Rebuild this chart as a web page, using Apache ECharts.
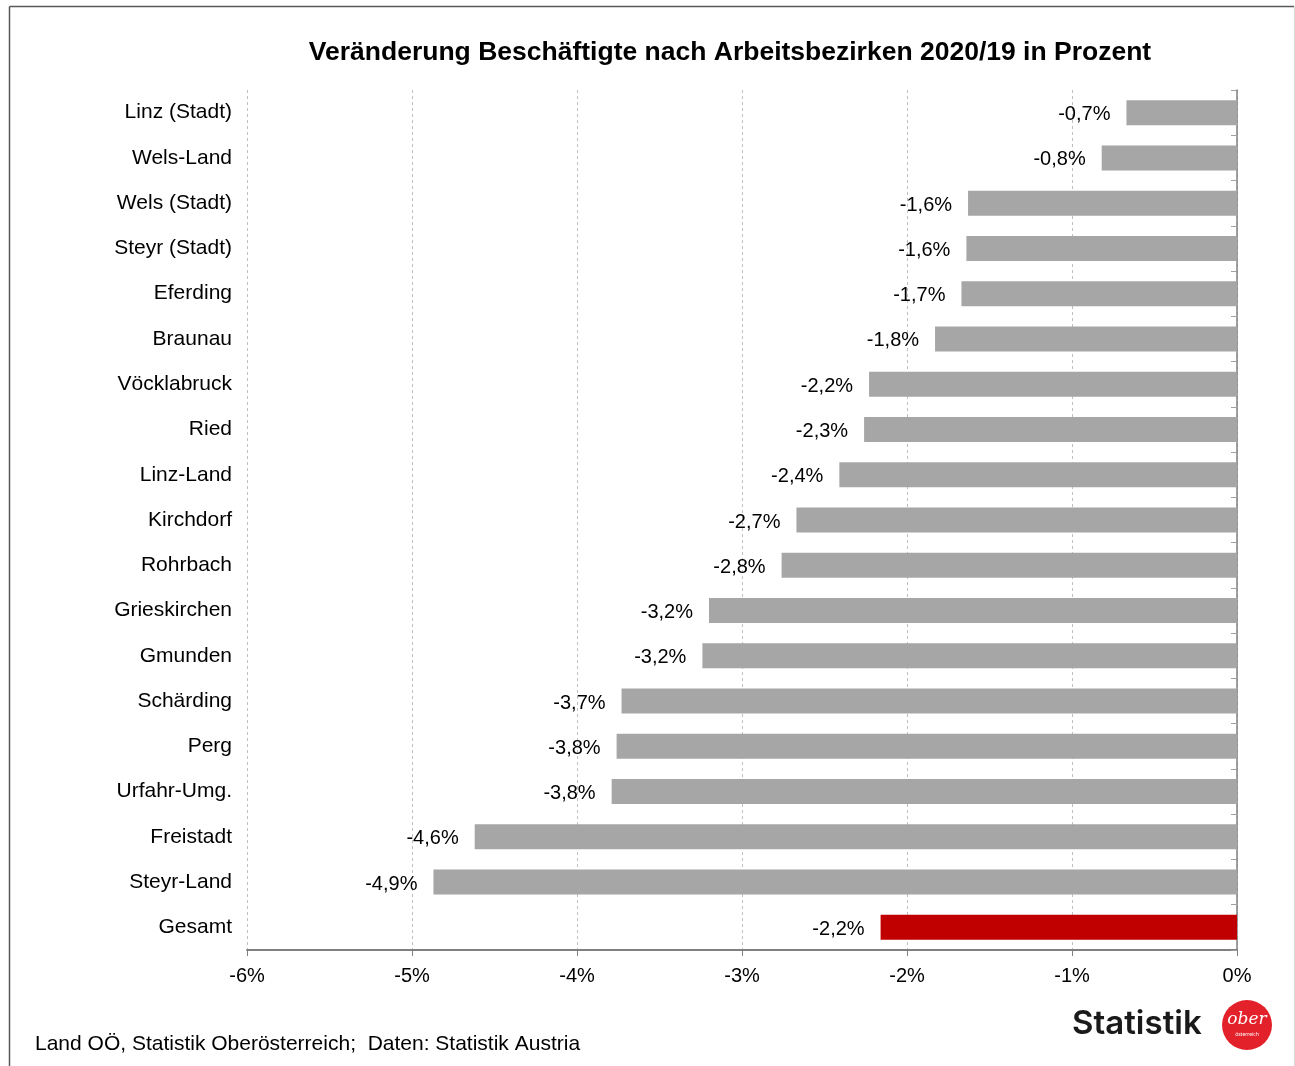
<!DOCTYPE html>
<html><head><meta charset="utf-8">
<script src="https://cdn.jsdelivr.net/npm/echarts@6/dist/echarts.min.js"></script>
<style>html,body{margin:0;padding:0;background:#fff}#c{width:1295px;height:1066px}</style>
</head><body><div id="c"></div>
<script>
const categories = ["Linz (Stadt)","Wels-Land","Wels (Stadt)","Steyr (Stadt)","Eferding","Braunau","Vöcklabruck","Ried","Linz-Land","Kirchdorf","Rohrbach","Grieskirchen","Gmunden","Schärding","Perg","Urfahr-Umg.","Freistadt","Steyr-Land","Gesamt"];
const values = [-0.67,-0.82,-1.63,-1.64,-1.67,-1.83,-2.23,-2.26,-2.41,-2.67,-2.76,-3.20,-3.24,-3.73,-3.76,-3.79,-4.62,-4.87,-2.16];
const highlight = ["Gesamt"];
const xTicks = [-6,-5,-4,-3,-2,-1,0];
const titleText = "Veränderung Beschäftigte nach Arbeitsbezirken 2020/19 in Prozent";
const sourceText = "Land OÖ, Statistik Oberösterreich;  Daten: Statistik Austria";

const fmt = v => (Math.round(v*10)/10).toFixed(1).replace('.', ',') + '%';
const F = '"Liberation Sans", Arial, sans-serif';

const chart = echarts.init(document.getElementById('c'), null, {renderer:'canvas'});
chart.setOption({
  animation:false,
  backgroundColor:'#fff',
  title:{text:titleText,left:725,textAlign:'center',top:34,textStyle:{fontFamily:F,fontSize:26.5,fontWeight:'bold',color:'#000'}},
  grid:{left:247,right:58,top:90,bottom:116},
  xAxis:{type:'value',min:xTicks[0],max:xTicks[xTicks.length-1],interval:1,
    axisLine:{show:true,onZero:false,lineStyle:{color:'#808080',width:2}},
    axisTick:{show:true,length:6,lineStyle:{color:'#808080',width:1}},
    axisLabel:{margin:16,fontFamily:F,fontSize:20,color:'#000',formatter:v=>v+'%'},
    splitLine:{show:true,lineStyle:{color:'#bfbfbf',type:[3,3],width:1}}},
  yAxis:[
    {type:'category',data:categories,inverse:true,position:'left',
      axisLine:{show:false},axisTick:{show:false},
      axisLabel:{margin:15,fontFamily:F,fontSize:21,color:'#000',padding:[2,0,0,0]}},
    {type:'category',data:categories,inverse:true,position:'right',
      axisLine:{show:true,lineStyle:{color:'#808080',width:1.5}},
      axisTick:{show:true,inside:true,length:6,lineStyle:{color:'#a0a0a0'}},
      axisLabel:{show:false}}
  ],
  series:[{type:'bar',yAxisIndex:0,barWidth:25,
    data:values.map((v,i)=>({value:v,itemStyle:{color:highlight.includes(categories[i])?'#c00000':'#a6a6a6'}})),
    label:{show:true,position:'left',distance:16,offset:[0,2],fontFamily:F,fontSize:20,color:'#000',formatter:p=>fmt(p.value)}}],
  graphic:[
    {type:'line',shape:{x1:9.5,y1:6.5,x2:1294,y2:6.5},style:{stroke:'#595959',lineWidth:1.5}},
    {type:'line',shape:{x1:9.5,y1:6.5,x2:9.5,y2:1066},style:{stroke:'#595959',lineWidth:1.5}},
    {type:'line',shape:{x1:1294.5,y1:6.5,x2:1294.5,y2:1066},style:{stroke:'#d9d9d9',lineWidth:1}},
    {type:'text',left:35,top:1034,style:{text:sourceText,font:'21px '+F,fill:'#000'}},
    {type:'text',left:1072,top:1008,style:{text:'Statistik',font:'600 33px Inter, "Noto Sans", sans-serif',fill:'#1a1a1a'}},
    {type:'circle',shape:{cx:1247,cy:1025,r:25},style:{fill:'#e3212b'}},
    {type:'text',x:1247,y:1020,style:{text:'ober',font:'italic 17px "DejaVu Serif", serif',fill:'#fff',align:'center',verticalAlign:'middle'}},
    {type:'text',x:1247,y:1035,style:{text:'österreich',font:'5px "Noto Sans", sans-serif',fill:'#fff',align:'center',verticalAlign:'middle'}}
  ]
});
</script></body></html>
